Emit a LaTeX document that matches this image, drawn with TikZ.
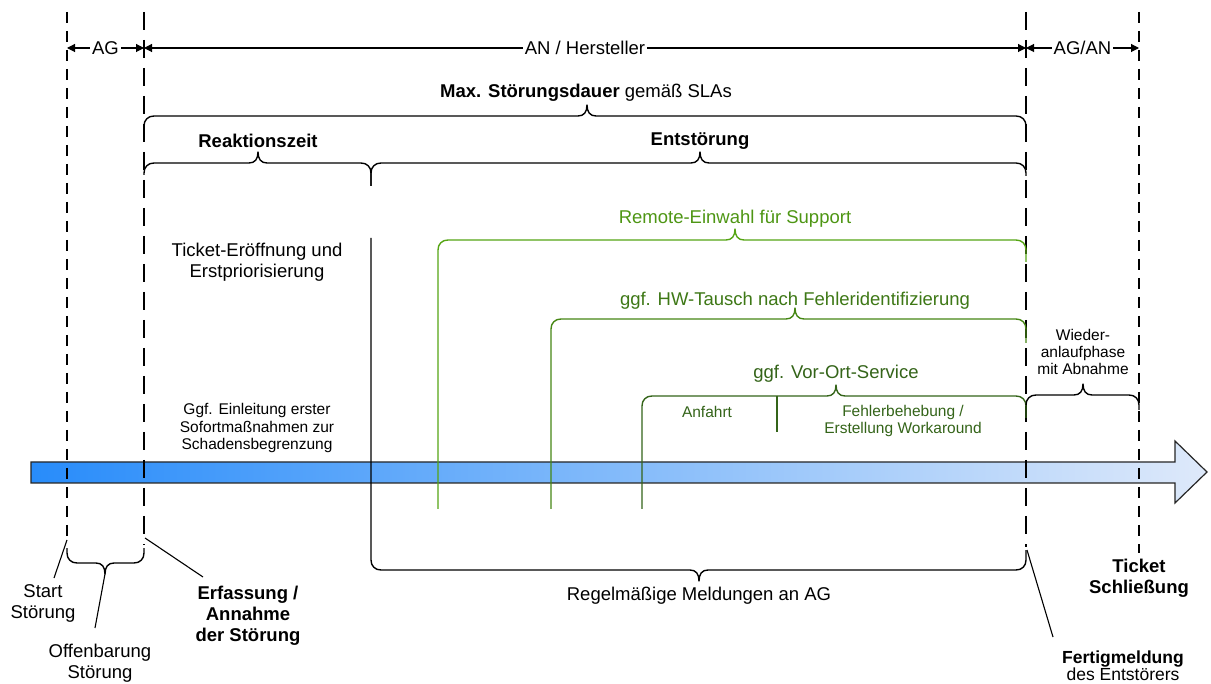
\documentclass[tikz,border=0pt]{standalone}
\usepackage{fontspec}
\setmainfont{Liberation Sans}
\usetikzlibrary{arrows.meta}
\definecolor{gRemote}{RGB}{86,165,20}
\definecolor{gRemoteT}{RGB}{78,150,20}
\definecolor{gHW}{RGB}{70,135,20}
\definecolor{gHWT}{RGB}{62,120,22}
\definecolor{gVor}{RGB}{52,100,25}
\definecolor{barL}{RGB}{40,140,250}
\definecolor{barR}{RGB}{222,233,250}
\newcommand\fBig{\fontsize{18.5}{21}\selectfont}
\newcommand\fMid{\fontsize{15.5}{17.5}\selectfont}
\newcommand\fSm{\fontsize{15.5}{17}\selectfont}
% brace with tip up, legs down: [style]{x1}{x2}{xtip}{y}{leg1 end}{leg2 end}
\newcommand\bup[7][]{\draw[brc,#1] (#2,#6) -- (#2,#5+10) .. controls (#2,#5+4) and (#2+4,#5) .. (#2+10,#5) -- (#4-9,#5) .. controls (#4-3,#5) and (#4,#5-4) .. (#4,#5-11) .. controls (#4,#5-4) and (#4+3,#5) .. (#4+9,#5) -- (#3-10,#5) .. controls (#3-4,#5) and (#3,#5+4) .. (#3,#5+10) -- (#3,#7);}
% brace with tip down, legs up
\newcommand\bdn[7][]{\draw[brc,#1] (#2,#6) -- (#2,#5-10) .. controls (#2,#5-4) and (#2+4,#5) .. (#2+10,#5) -- (#4-9,#5) .. controls (#4-3,#5) and (#4,#5+4) .. (#4,#5+11) .. controls (#4,#5+4) and (#4+3,#5) .. (#4+9,#5) -- (#3-10,#5) .. controls (#3-4,#5) and (#3,#5-4) .. (#3,#5-10) -- (#3,#7);}
\tikzset{
  thindash/.style={line width=1.3pt, dash pattern=on 11pt off 8pt},
  thickdash/.style={line width=2.3pt, dash pattern=on 18pt off 10pt},
  brc/.style={line width=1.4pt, line join=round},
  dimline/.style={line width=1.1pt, {Triangle[length=8pt,width=8pt]}-{Triangle[length=8pt,width=8pt]}},
  lbl/.style={inner sep=0pt, align=center, font=\fBig},
  ptr/.style={line width=1.1pt},
}
\begin{document}
\begin{tikzpicture}[x=1pt,y=-1pt]
\useasboundingbox (0,0) rectangle (1211,684);
\fill[white] (0,0) rectangle (1211,684);
% time arrow
\path[left color=barL, right color=barR, draw=black!85, line width=1.2pt]
  (31,462) -- (1175,462) -- (1175,441) -- (1207,472) -- (1175,503) -- (1175,483) -- (31,483) -- cycle;
% milestone lines
\coordinate (d1t) at (67,12);   \coordinate (d1b) at (67,538);
\coordinate (d2t) at (144,12);  \coordinate (d2b) at (144,545);
\coordinate (d3t) at (1026,12); \coordinate (d3b) at (1026,547);
\coordinate (d4t) at (1139,12); \coordinate (d4b) at (1139,553);
\draw[thindash] (d1t) -- (d1b);
\draw[thickdash] (d2t) -- (d2b);
\draw[thickdash] (d3t) -- (d3b);
\draw[thindash] (d4t) -- (d4b);
% responsibility arrows
\coordinate (m1) at (67,48); \coordinate (m2) at (144,48);
\coordinate (m3) at (1026,48); \coordinate (m4) at (1139,48);
\draw[dimline] (m1) -- (m2) node[midway, lbl, fill=white, inner xsep=2pt] (ag) {AG};
\draw[dimline] (m2) -- (m3) node[midway, lbl, fill=white, inner xsep=2pt] (an) {AN / Hersteller};
\draw[dimline] (m3) -- (m4) node[midway, lbl, fill=white, inner xsep=2pt] (agan) {AG/AN};
% braces
\bup{144}{1026}{587}{116}{128}{128}
\bup{144}{371}{258}{163}{175}{186}
\bup{371}{1026}{700}{163}{186}{176}
\bup[draw=gRemote]{438}{1026}{735}{240}{509}{262}
\bup[draw=gHW]{551}{1026}{795}{319}{509}{343}
\bup[draw=gVor]{642}{1026}{836}{396}{509}{418}
\coordinate (divt) at (777,396); \coordinate (divb) at (777,432);
\draw[brc, gVor] (divt) -- (divb);
\bup{1026}{1139}{1083}{395}{405}{410}
\bdn{371}{1026}{699}{570}{238}{550}
\bdn{67}{144}{105}{563}{548}{548}
% labels
\node[lbl] (max) at (586,93) {{\bfseries Max. Störungsdauer} gemäß SLAs};
\node[lbl, font=\fBig\bfseries] (reak) at (258,141) {Reaktionszeit};
\node[lbl, font=\fBig\bfseries] (ents) at (700,141) {Entstörung};
\node[lbl] (ticket) at (257,262) {Ticket-Eröffnung und\\Erstpriorisierung};
\node[lbl, font=\fMid] (sofort) at (257,428) {Ggf. Einleitung erster\\Sofortmaßnahmen zur\\Schadensbegrenzung};
\node[lbl, text=gRemoteT] (remote) at (735,219) {Remote-Einwahl für Support};
\node[lbl, text=gHWT] (hw) at (795,301) {ggf. HW-Tausch nach Fehleridentifizierung};
\node[lbl, text=gVor] (vor) at (836,374) {ggf. Vor-Ort-Service};
\node[lbl, font=\fMid, text=gVor] (anf) at (707,412) {Anfahrt};
\node[lbl, font=\fMid, text=gVor] (fehl) at (903,421) {Fehlerbehebung /\\Erstellung Workaround};
\node[lbl, font=\fSm] (wieder) at (1083,352) {Wieder-\\anlaufphase\\mit Abnahme};
\node[lbl] (regel) at (699,596) {Regelmäßige Meldungen an AG};
\node[lbl] (start) at (43,603) {Start\\Störung};
\node[lbl] (offen) at (100,663) {Offenbarung\\Störung};
\node[lbl, font=\fBig\bfseries] (erf) at (248,616) {Erfassung /\\Annahme\\der Störung};
\node[lbl, font=\fBig\bfseries] (tick) at (1139,578) {Ticket\\Schließung};
\node[lbl, font=\fontsize{17.5}{19}\selectfont\bfseries, anchor=base] (fert) at (1123,663) {Fertigmeldung};
\node[lbl, font=\fontsize{17.5}{19}\selectfont, anchor=base] (fert2) at (1123,680) {des Entstörers};
% pointers
\coordinate (p1a) at (67,540);  \coordinate (p1b) at (54,578);
\coordinate (p2a) at (105,574); \coordinate (p2b) at (95,628);
\coordinate (p3a) at (145,538); \coordinate (p3b) at (203,577);
\coordinate (p4a) at (1027,550); \coordinate (p4b) at (1053,637);
\draw[ptr] (p1a) -- (p1b);
\draw[ptr] (p2a) -- (p2b);
\draw[ptr] (p3a) -- (p3b);
\draw[ptr] (p4a) -- (p4b);
\end{tikzpicture}
\end{document}
